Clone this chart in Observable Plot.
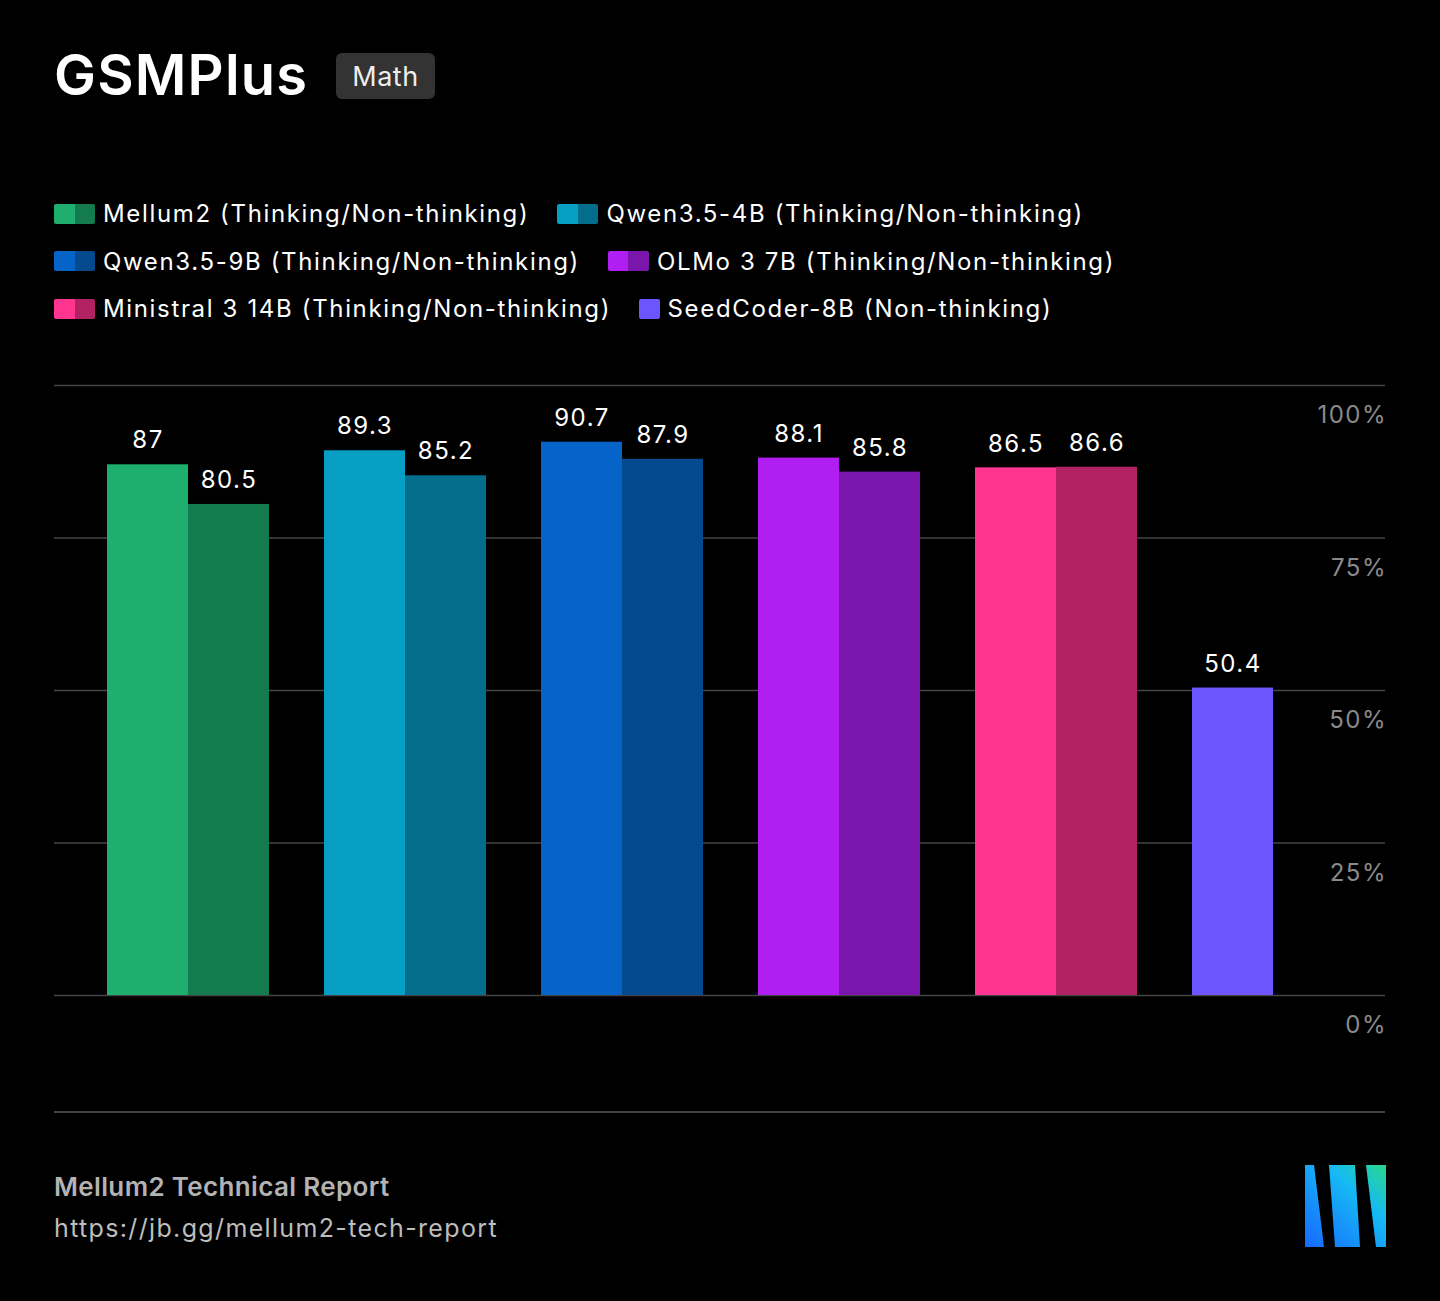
<!DOCTYPE html>
<html>
<head>
<meta charset="utf-8">
<script src="https://cdn.jsdelivr.net/npm/d3@7"></script>
<script src="https://cdn.jsdelivr.net/npm/@observablehq/plot@0.6"></script>
<style>
  html, body { margin: 0; padding: 0; background: #000; }
  body { width: 1440px; height: 1301px; position: relative; overflow: hidden; font-family: Inter, "Noto Sans", sans-serif; color: #fff; }
  #title { position: absolute; left: 54px; top: 47px; font-size: 56px; line-height: 1; font-weight: 600; letter-spacing: 1.2px; }
  #badge { position: absolute; left: 336px; top: 53px; width: 99px; height: 46px; background: #333; border-radius: 6px; display: flex; align-items: center; justify-content: center; font-size: 27px; color: #eee; letter-spacing: 0.5px; }
  #legend { position: absolute; left: 54px; top: 190px; width: 1331px; display: flex; flex-wrap: wrap; column-gap: 28px; font-size: 24px; letter-spacing: 1.65px; }
  .item { display: flex; align-items: center; height: 47.5px; white-space: nowrap; }
  .sw { display: flex; margin-right: 8px; border-radius: 2px; overflow: hidden; }
  .sw span { display: block; width: 20.5px; height: 20px; }
  #grid, #chart { position: absolute; left: 54px; top: 360px; }
  #grid svg text, #chart svg text { letter-spacing: 1.5px; }
  #sep { position: absolute; left: 54px; top: 1111px; width: 1331px; height: 1.5px; background: #444; }
  #foot1 { position: absolute; left: 54px; top: 1170px; font-size: 26px; font-weight: 600; color: #b3b3b3; line-height: 34px; letter-spacing: 0.35px; }
  #foot2 { position: absolute; left: 54px; top: 1211px; font-size: 25px; color: #bdbdbd; line-height: 34px; letter-spacing: 1.35px; }
  #logo { position: absolute; left: 0; top: 0; }
</style>
</head>
<body>
<div id="title">GSMPlus</div>
<div id="badge">Math</div>
<div id="legend"></div>
<div id="grid"></div>
<div id="chart"></div>
<div id="sep"></div>
<div id="foot1">Mellum2 Technical Report</div>
<div id="foot2">https://jb.gg/mellum2-tech-report</div>
<svg id="logo" width="1440" height="1301" style="pointer-events:none">
  <defs>
    <linearGradient id="lg" gradientUnits="userSpaceOnUse" x1="1305" y1="1247" x2="1386" y2="1165">
      <stop offset="0" stop-color="#1668ff"/>
      <stop offset="0.65" stop-color="#16baf4"/>
      <stop offset="1" stop-color="#28d98a"/>
    </linearGradient>
  </defs>
  <polygon points="1305,1165 1314,1165 1324,1247 1305,1247" fill="url(#lg)"/>
  <polygon points="1329,1165 1355,1165 1360,1247 1335,1247" fill="url(#lg)"/>
  <polygon points="1366,1165 1386,1165 1386,1247 1376,1247" fill="url(#lg)"/>
</svg>
<script>
const models = ["Mellum2", "Qwen3.5-4B", "Qwen3.5-9B", "OLMo 3 7B", "Ministral 3 14B", "SeedCoder-8B"];
const thinking = [87, 89.3, 90.7, 88.1, 86.5, null];
const nonThinking = [80.5, 85.2, 87.9, 85.8, 86.6, 50.4];
const thinkingColors = ["#1eae6e", "#069ec2", "#0664c8", "#b11ef2", "#ff358f", null];
const nonThinkingColors = ["#137b4d", "#036e8b", "#05498f", "#7a16ab", "#b02262", "#6d55fe"];
const legendLabels = [
  "Mellum2 (Thinking/Non-thinking)",
  "Qwen3.5-4B (Thinking/Non-thinking)",
  "Qwen3.5-9B (Thinking/Non-thinking)",
  "OLMo 3 7B (Thinking/Non-thinking)",
  "Ministral 3 14B (Thinking/Non-thinking)",
  "SeedCoder-8B (Non-thinking)"
];
const yTicks = [0, 25, 50, 75, 100];

// legend
const legend = d3.select("#legend");
models.forEach((m, i) => {
  const item = legend.append("div").attr("class", "item");
  const sw = item.append("div").attr("class", "sw");
  if (thinkingColors[i]) sw.append("span").style("background", thinkingColors[i]);
  sw.append("span").style("background", nonThinkingColors[i]);
  item.append("span").text(legendLabels[i]);
});

// rows
const rows = [];
models.forEach((m, i) => {
  const vals = [];
  if (thinking[i] != null) vals.push({value: thinking[i], color: thinkingColors[i], mode: "Thinking"});
  vals.push({value: nonThinking[i], color: nonThinkingColors[i], mode: "Non-thinking"});
  vals.forEach((v, slot) => rows.push({model: m, slot, ...v}));
});

const common = {
  width: 1331,
  height: 695,
  marginTop: 25,
  marginBottom: 60,
  marginLeft: 0,
  marginRight: 0,
  style: {background: "transparent", color: "#fff", fontFamily: "Inter, sans-serif", overflow: "visible"},
  y: {domain: [0, 100], axis: null}
};

// background layer: gridlines and percentage labels spanning the full width
const grid = Plot.plot({
  ...common,
  marks: [
    Plot.ruleY(yTicks, {stroke: "#444", strokeWidth: 1.5}),
    Plot.text(yTicks, {y: (d) => d, text: (d) => `${d}%`, frameAnchor: "right", textAnchor: "end", dx: 1.5, dy: 30, fill: "#8a8a8a", fontSize: 24})
  ]
});
document.getElementById("grid").append(grid);

// bars, faceted by model
const chart = Plot.plot({
  ...common,
  fx: {domain: models, paddingInner: 55 / 217, paddingOuter: 0.19355, align: 0.631, round: false, axis: null, label: null},
  x: {domain: [0, 1], padding: 0, round: false, axis: null},
  marks: [
    Plot.barY(rows, {fx: "model", x: "slot", y: "value", fill: "color"}),
    Plot.text(rows, {fx: "model", x: "slot", y: "value", text: (d) => String(d.value), dy: -24, fill: "#fff", fontSize: 24})
  ]
});
document.getElementById("chart").append(chart);
</script>
</body>
</html>
